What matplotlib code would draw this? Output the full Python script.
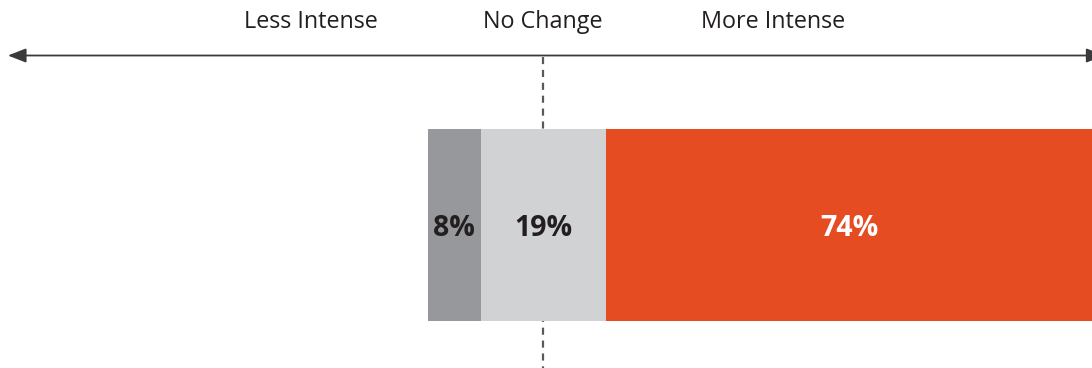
import matplotlib.pyplot as plt
from matplotlib.patches import FancyArrowPatch

plt.rcParams['font.family'] = ['Open Sans', 'DejaVu Sans']

# response shares (percent)
categories = ['Less Intense', 'No Change', 'More Intense']
values = [8, 19, 74]
colors = ['#97989b', '#d1d2d4', '#e54c22']
text_colors = ['#231f20', '#231f20', '#ffffff']

fig = plt.figure(figsize=(10.92, 3.68), dpi=100)
ax = fig.add_axes([0, 0, 1, 1])
ax.set_xlim(-82.5, 83.4)
ax.set_ylim(368, 0)
ax.axis('off')

# stack is centred on the middle of the "No Change" segment
left = -values[0] - values[1] / 2.0
for val, col, tcol in zip(values, colors, text_colors):
    ax.barh(225, val, left=left, height=192, color=col, edgecolor='none', zorder=2)
    ax.text(left + val / 2.0, 228, '%d%%' % val, ha='center', va='center',
            fontsize=20.5, fontweight='bold', color=tcol, zorder=3)
    left += val

# dashed reference line through no change
ax.plot([0, 0], [57, 368], color='#58595b', lw=1.6, ls=(0, (3.2, 2.6)), zorder=1)

# double-headed scale arrow, right head runs off the edge
arrow = FancyArrowPatch((-81.3, 55.5), (85.3, 55.5),
                        arrowstyle='<|-|>,head_length=11,head_width=4.3',
                        mutation_scale=1, shrinkA=0, shrinkB=0,
                        color='#3a3a3c', lw=1.3, zorder=2)
ax.add_patch(arrow)

header_x = [-35.3, 0, 35]
for name, hx in zip(categories, header_x):
    ax.text(hx, 22.5, name, ha='center', va='center', fontsize=16.8, color='#231f20')

fig.savefig('out.png', dpi=100)
